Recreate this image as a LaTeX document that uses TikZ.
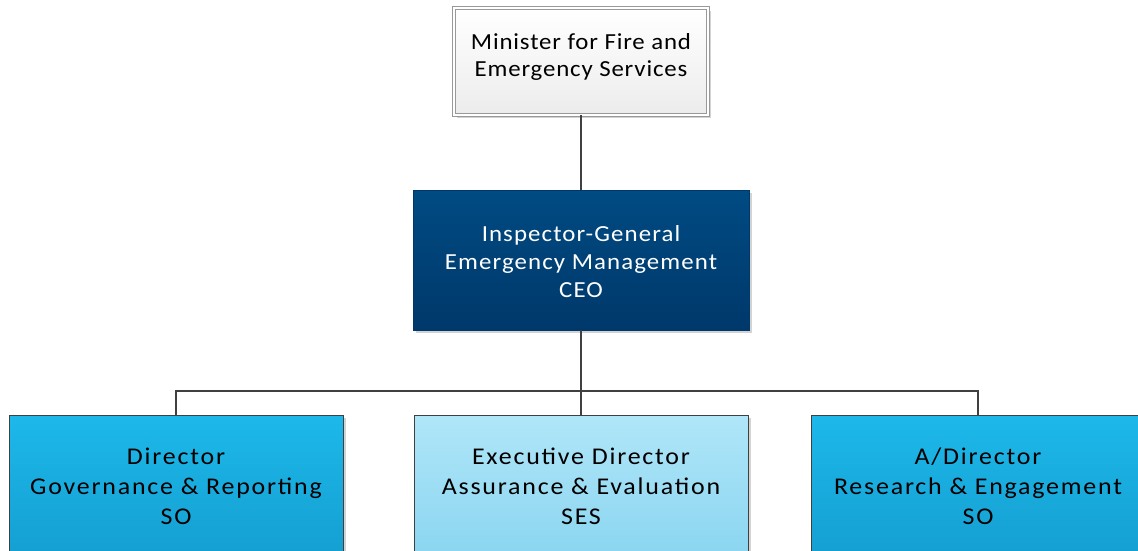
\documentclass[tikz,border=0pt]{standalone}
\usepackage{fontspec}
\setmainfont{Carlito}
\newfontfamily\wide[FakeStretch=1.08]{Carlito}
\usetikzlibrary{shadows,positioning}
\definecolor{linegray}{HTML}{404040}
\definecolor{igtop}{HTML}{004B83}
\definecolor{igbot}{HTML}{00386A}
\definecolor{bluetop}{HTML}{1DB8EA}
\definecolor{bluebot}{HTML}{15A0D2}
\definecolor{ltop}{HTML}{B0E6F8}
\definecolor{lbot}{HTML}{8CD6F1}
\definecolor{shade}{HTML}{C8C8C8}
\begin{document}
\begin{tikzpicture}[x=1pt,y=-1pt,
  box/.style={draw=linegray, line width=0.8pt, inner sep=0pt,
    drop shadow={shadow xshift=3pt, shadow yshift=-3pt, fill=shade, opacity=0.8}},
  minbox/.style={box, draw=gray!80, minimum width=254pt, minimum height=107pt,
    top color=white, bottom color=gray!15, double=white, double distance=2.5pt},
  igbox/.style={box, draw=igbot, minimum width=336pt, minimum height=140pt,
    top color=igtop, bottom color=igbot},
  subbox/.style={box, minimum width=334pt, minimum height=136pt},
  darkbox/.style={subbox, top color=bluetop, bottom color=bluebot},
  lightbox/.style={subbox, top color=ltop, bottom color=lbot},
  mintext/.style={align=center, inner sep=0pt,
    font=\wide\fontsize{23}{27}\selectfont\addfontfeature{LetterSpace=3.7}},
  igtext/.style={align=center, inner sep=0pt, text=white,
    font=\wide\fontsize{23}{28}\selectfont\addfontfeature{LetterSpace=4.8}},
  subtext/.style={align=center, inner sep=0pt,
    font=\wide\fontsize{24}{30}\selectfont\addfontfeature{LetterSpace=7.5}},
  conn/.style={draw=linegray, line width=2pt}]
\useasboundingbox (0,0) rectangle (1138,551);
\node[minbox] (min) at (581,61.5) {};
\node[mintext, yshift=4.5pt] (mint) at (min.center) {Minister for Fire and\\Emergency Services};
\node[igbox] (ig) at (581,260) {};
\node[igtext, yshift=-2pt] (igt) at (ig.center) {Inspector-General\\Emergency Management\\CEO};
\node[darkbox] (gov) at (176,483) {};
\node[subtext, yshift=-3pt] (govt) at (gov.center) {Director\\Governance \& Reporting\\SO};
\node[lightbox] (ae) at (581,483) {};
\node[subtext, yshift=-3pt] (aet) at (ae.center) {Executive Director\\Assurance \& Evaluation\\SES};
\node[darkbox] (re) at (978,483) {};
\node[subtext, yshift=-3pt] (ret) at (re.center) {A/Director\\Research \& Engagement\\SO};
\coordinate (bus) at (581,391);
\draw[conn] (min.south) -- (ig.north);
\draw[conn] (ig.south) -- (ae.north);
\draw[conn] (gov.north) |- (bus) -| (re.north);
\end{tikzpicture}
\end{document}
